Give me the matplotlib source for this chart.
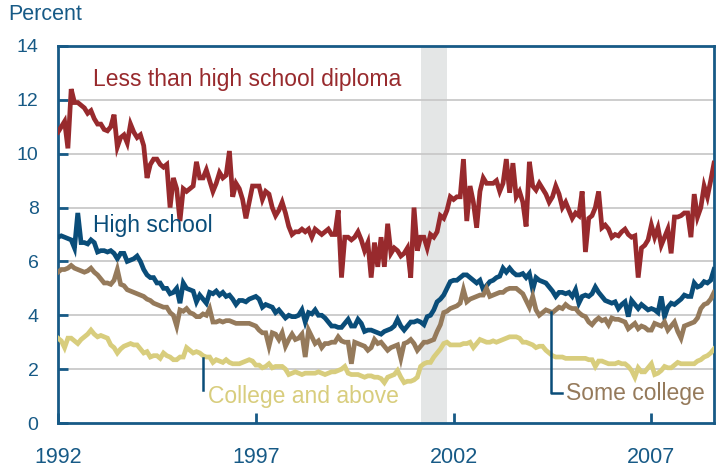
import numpy as np
import matplotlib
matplotlib.use("Agg")
from matplotlib import pyplot as plt

# monthly unemployment rates, Jan 1992 - Aug 2008 (percent)
less_hs = [
    10.8, 11.0, 11.2, 10.2, 12.4, 11.9, 11.9, 11.8, 11.7, 11.5, 11.6, 11.3,  # 1992
    11.1, 11.1, 10.9, 10.85, 11.0, 11.45, 10.25, 10.6, 10.7, 10.4, 11.1, 10.8,  # 1993
    10.6, 10.7, 10.3, 9.1, 9.6, 9.8, 9.8, 9.6, 9.5, 9.6, 8.0, 9.1,  # 1994
    8.7, 7.5, 8.7, 8.6, 8.7, 8.8, 9.7, 9.1, 9.1, 9.4, 9.0, 8.6,  # 1995
    8.9, 9.3, 9.1, 9.2, 10.1, 8.4, 8.9, 8.7, 8.3, 7.6, 8.2, 8.8,  # 1996
    8.8, 8.8, 8.3, 8.6, 8.5, 8.0, 7.7, 7.9, 8.2, 7.8, 7.3, 7.0,  # 1997
    7.1, 7.1, 7.2, 7.1, 7.2, 6.9, 7.2, 7.1, 7.0, 7.1, 7.2, 7.0,  # 1998
    7.0, 7.9, 5.4, 6.9, 6.9, 6.8, 6.9, 7.1, 6.8, 6.4, 6.7, 5.4,  # 1999
    6.7, 5.8, 6.9, 5.8, 7.4, 6.3, 6.5, 6.4, 6.2, 6.3, 6.5, 5.4,  # 2000
    8.0, 6.4, 6.9, 6.9, 6.5, 7.0, 6.9, 7.1, 7.7, 7.6, 7.9, 8.4,  # 2001
    8.3, 8.4, 8.4, 9.8, 7.5, 8.8, 8.2, 7.25, 8.6, 9.1, 8.9, 8.9,  # 2002
    8.9, 9.0, 8.6, 8.9, 9.8, 8.55, 9.65, 8.4, 8.6, 8.2, 7.3, 9.7,  # 2003
    8.8, 8.65, 8.9, 8.7, 8.5, 8.2, 8.4, 8.8, 8.5, 8.0, 8.2, 7.9,  # 2004
    7.6, 7.8, 7.7, 8.6, 6.35, 7.6, 7.7, 8.0, 8.6, 7.25, 7.35, 7.2,  # 2005
    6.9, 7.0, 6.95, 7.1, 7.2, 7.0, 6.9, 6.95, 5.4, 6.5, 6.6, 6.8,  # 2006
    7.35, 6.9, 7.25, 6.6, 6.9, 7.2, 6.3, 7.65, 7.65, 7.7, 7.8, 7.8,  # 2007
    6.9, 8.5, 7.65, 8.0, 8.8, 8.4, 9.0, 9.65,  # 2008
]
high_school = [
    6.9, 6.95, 6.9, 6.85, 6.8, 6.5, 7.8, 6.7, 6.7, 6.65, 6.8, 6.7,
    6.35, 6.4, 6.4, 6.35, 6.4, 6.3, 6.1, 6.3, 6.3, 6.0, 6.05, 6.1,
    6.2, 6.0, 5.7, 5.5, 5.4, 5.4, 5.2, 5.2, 5.0, 5.0, 4.8, 4.85,
    5.0, 4.45, 5.2, 5.0, 4.95, 4.9, 4.5, 4.75, 4.6, 4.45, 4.85, 4.8,
    4.9, 4.75, 4.85, 4.7, 4.75, 4.6, 4.4, 4.55, 4.55, 4.5, 4.6, 4.65,
    4.7, 4.6, 4.3, 4.4, 4.35, 4.3, 4.1, 4.2, 4.05, 3.9, 4.0, 3.95,
    3.95, 4.0, 4.2, 3.75, 4.1, 4.05, 4.2, 4.0, 4.0, 3.9, 3.75, 3.6,
    3.6, 3.55, 3.55, 3.7, 3.85, 3.6, 3.6, 3.85, 3.7, 3.4, 3.45, 3.45,
    3.4, 3.35, 3.3, 3.4, 3.45, 3.5, 3.6, 3.85, 3.6, 3.45, 3.6, 3.75,
    3.75, 3.8, 3.75, 3.65, 3.95, 4.0, 4.2, 4.5, 4.6, 4.75, 5.0, 5.25,
    5.3, 5.3, 5.4, 5.5, 5.5, 5.4, 5.3, 5.2, 5.3, 4.95, 5.1, 5.25,
    5.3, 5.4, 5.45, 5.75, 5.6, 5.75, 5.6, 5.5, 5.5, 5.55, 5.4, 5.55,
    4.95, 5.4, 5.3, 5.25, 5.2, 5.05, 4.9, 4.7, 4.85, 4.85, 4.8, 4.85,
    4.7, 4.95, 4.45, 4.7, 4.75, 4.7, 4.8, 5.05, 4.85, 4.7, 4.55, 4.5,
    4.45, 4.5, 4.25, 4.4, 4.5, 3.95, 4.55, 4.4, 4.25, 4.4, 4.3, 4.2,
    4.25, 4.2, 4.1, 4.7, 3.95, 4.3, 4.45, 4.4, 4.5, 4.6, 4.75, 4.7,
    4.7, 5.2, 5.05, 5.1, 5.25, 5.2, 5.3, 5.7,
]
some_college = [
    5.6, 5.7, 5.7, 5.75, 5.85, 5.75, 5.7, 5.65, 5.6, 5.65, 5.75, 5.6,
    5.5, 5.35, 5.2, 5.2, 5.15, 5.3, 5.7, 5.15, 5.1, 4.95, 4.9, 4.85,
    4.8, 4.75, 4.7, 4.6, 4.55, 4.45, 4.4, 4.35, 4.3, 4.3, 4.1, 4.0,
    3.6, 4.2, 4.15, 4.25, 4.1, 4.05, 3.95, 3.95, 4.05, 4.0, 4.25, 3.75,
    3.75, 3.8, 3.75, 3.8, 3.8, 3.75, 3.7, 3.7, 3.7, 3.7, 3.7, 3.65,
    3.6, 3.45, 3.35, 3.35, 2.85, 3.35, 3.3, 3.1, 3.35, 2.85, 3.1, 3.3,
    3.1, 3.15, 3.3, 2.45, 3.45, 3.2, 2.95, 3.05, 2.8, 2.95, 2.95, 3.0,
    3.0, 3.2, 3.05, 3.0, 3.0, 2.2, 3.0, 2.95, 2.9, 2.85, 2.7, 2.8,
    3.1, 2.95, 3.0, 2.85, 2.7, 2.8, 2.85, 2.9, 2.4, 2.95, 3.0, 3.1,
    2.95, 2.7, 2.85, 3.0, 3.0, 3.05, 3.1, 3.4, 3.65, 4.1, 4.15, 4.25,
    4.3, 4.35, 4.45, 4.95, 4.5, 4.6, 4.65, 4.7, 4.75, 4.75, 5.0, 4.7,
    4.75, 4.8, 4.85, 4.85, 4.95, 5.0, 5.0, 5.0, 4.9, 4.8, 4.55, 4.3,
    4.7, 4.2, 4.0, 4.1, 4.2, 4.15, 4.1, 4.2, 4.3, 4.25, 4.4, 4.3,
    4.25, 4.25, 4.1, 4.0, 3.95, 3.75, 3.65, 3.8, 3.9, 3.8, 3.85, 3.65,
    3.9, 3.85, 3.85, 3.8, 3.75, 3.5, 3.6, 3.7, 3.5, 3.6, 3.55, 3.45,
    3.45, 3.7, 3.65, 3.6, 3.75, 3.45, 3.6, 3.75, 3.4, 3.15, 3.6, 3.65,
    3.7, 3.75, 3.9, 4.25, 4.4, 4.45, 4.6, 4.85,
]
college = [
    3.15, 3.05, 2.8, 3.15, 3.15, 3.05, 2.95, 3.1, 3.2, 3.3, 3.45, 3.3,
    3.2, 3.25, 3.2, 3.15, 2.9, 2.8, 2.6, 2.75, 2.85, 2.9, 2.95, 2.9,
    2.9, 2.75, 2.6, 2.65, 2.45, 2.5, 2.5, 2.4, 2.6, 2.5, 2.45, 2.35,
    2.35, 2.45, 2.45, 2.8, 2.7, 2.6, 2.65, 2.6, 2.5, 2.45, 2.45, 2.25,
    2.35, 2.3, 2.25, 2.35, 2.25, 2.2, 2.2, 2.2, 2.25, 2.3, 2.35, 2.3,
    2.15, 2.15, 2.05, 2.1, 2.2, 2.05, 2.1, 2.1, 2.1, 2.0, 1.8, 1.85,
    1.9, 1.85, 1.8, 1.85, 1.85, 1.85, 1.85, 1.9, 1.85, 1.8, 1.85, 1.9,
    1.9, 1.95, 2.0, 2.1, 1.85, 1.8, 1.8, 1.8, 1.75, 1.7, 1.75, 1.75,
    1.7, 1.7, 1.65, 1.5, 1.7, 1.75, 1.8, 1.95, 1.7, 1.5, 1.55, 1.55,
    1.6, 1.7, 2.1, 2.2, 2.25, 2.25, 2.45, 2.6, 2.75, 2.95, 3.0, 2.9,
    2.9, 2.9, 2.9, 2.95, 2.95, 3.0, 2.8, 2.95, 3.1, 3.05, 3.0, 3.0,
    3.05, 3.0, 3.05, 3.1, 3.15, 3.2, 3.2, 3.2, 3.15, 3.0, 3.0, 2.95,
    2.9, 2.8, 2.85, 2.85, 2.7, 2.6, 2.5, 2.45, 2.45, 2.45, 2.4, 2.4,
    2.4, 2.4, 2.4, 2.4, 2.4, 2.35, 2.35, 2.1, 2.3, 2.3, 2.25, 2.2,
    2.2, 2.2, 2.25, 2.2, 2.2, 2.1, 1.95, 1.7, 2.05, 1.9, 1.9, 2.05,
    2.2, 1.8, 1.85, 1.95, 2.1, 2.05, 2.05, 2.15, 2.25, 2.2, 2.2, 2.2,
    2.2, 2.2, 2.3, 2.35, 2.45, 2.5, 2.6, 2.75,
]
recession = (2001 + 2 / 12, 2001 + 10 / 12)   # Mar - Nov 2001
year_ticks = [1992, 1997, 2002, 2007]
pct_ticks = [0, 2, 4, 6, 8, 10, 12, 14]

months = 1992 + np.arange(len(less_hs)) / 12

RED = "#982a2d"
BLUE = "#0a4d79"
BROWN = "#957a5b"
YELLOW = "#d8cd7d"
AXBLUE = "#175a86"

plt.rcParams["font.family"] = ["Liberation Sans", "DejaVu Sans"]

fig = plt.figure(figsize=(7.21, 4.71), dpi=100)
ax = fig.add_axes([58 / 721, 1 - 423 / 471, 656 / 721, 377 / 471])

ax.axvspan(recession[0], recession[1], color="#e4e6e6", lw=0, zorder=0)
for v in pct_ticks[1:-1]:
    ax.axhline(v, color="#c9c9c9", lw=1.3, zorder=1)

for series, col in [(less_hs, RED), (high_school, BLUE),
                    (some_college, BROWN), (college, YELLOW)]:
    ax.plot(months, series, color=col, lw=3.4, solid_joinstyle="miter",
            zorder=3)

ax.set_xlim(months[0], months[-1])
ax.set_ylim(0, 14)
ax.set_xticks(year_ticks)
ax.set_xticklabels([str(y) for y in year_ticks])
ax.set_yticks(pct_ticks)
for s in ax.spines.values():
    s.set_color(AXBLUE)
    s.set_linewidth(2)
ax.tick_params(axis="both", direction="in", length=7, width=2, color=AXBLUE,
               labelcolor=AXBLUE)
ax.tick_params(axis="y", labelsize=14, pad=14)
ax.tick_params(axis="x", labelsize=15.5, pad=17)

fig.text(8 / 721, 1 - 15 / 471, "Percent", color=AXBLUE, fontsize=15.5,
         va="center", ha="left")

ax.text(1992.88, 12.74, "Less than high school diploma", color=RED,
        fontsize=16.5, va="center", ha="left")
ax.text(1992.88, 7.35, "High school", color=BLUE, fontsize=16.5,
        va="center", ha="left")

ax.plot([1995.66, 1995.66], [2.41, 1.22], color=BLUE, lw=1.8, zorder=4)
ax.text(1995.78, 0.97, "College and above", color=YELLOW, fontsize=16.5,
        va="center", ha="left")

ax.plot([2004.47, 2004.47, 2004.75], [4.12, 1.11, 1.11], color=BLUE, lw=1.8,
        zorder=4)
ax.text(2004.83, 1.11, "Some college", color=BROWN, fontsize=16.5,
        va="center", ha="left")

fig.savefig("out.png", dpi=100)
